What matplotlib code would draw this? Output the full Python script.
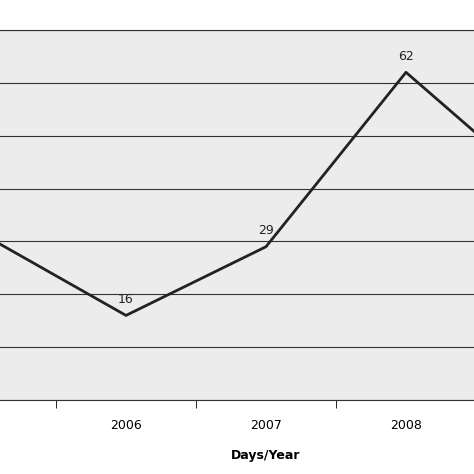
import matplotlib
matplotlib.use("Agg")
import matplotlib.pyplot as plt

years = ["2005", "2006", "2007", "2008", "2009"]
values = [31, 16, 29, 62, 39]
shown = [False, True, True, True, False]

fig = plt.figure(figsize=(4.74, 4.74), dpi=100)
ax = fig.add_axes([-84/474, 74/474, 700/474, 370/474])
ax.set_facecolor("#ececec")
x = list(range(len(years)))
ax.plot(x, values, color="#222222", lw=2)
for xi, v, s in zip(x, values, shown):
    if s:
        ax.annotate(str(v), (xi, v), xytext=(0, 7), textcoords="offset points",
                    ha="center", va="bottom", fontsize=9, color="#222222")
ax.set_xlim(-0.5, 4.5)
ax.set_ylim(0, 70)
ax.set_yticks(range(0, 71, 10))
ax.set_yticklabels([])
ax.yaxis.grid(True, color="#333333", lw=0.8)
ax.tick_params(axis="y", length=0)
ax.set_xticks(x)
ax.set_xticklabels([y if s else "" for y, s in zip(years, shown)], fontsize=9)
ax.set_xticks([i + 0.5 for i in range(-1, 5)], minor=True)
ax.tick_params(axis="x", which="major", length=0, pad=14)
ax.tick_params(axis="x", which="minor", length=6)
ax.set_xlabel("Days/Year", fontsize=9, fontweight="bold", labelpad=12)
for s in ax.spines.values():
    s.set_color("#333333")
fig.savefig("out.png", dpi=100)
